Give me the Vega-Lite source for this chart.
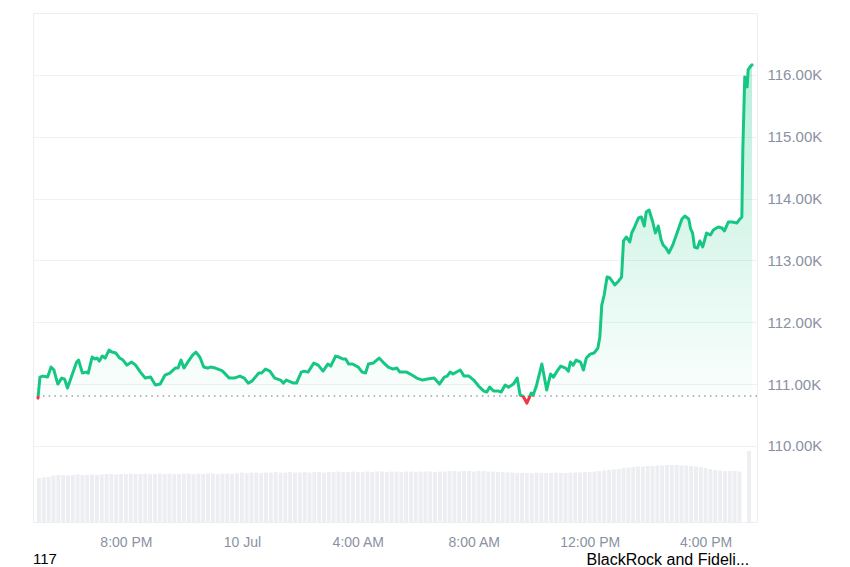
{
  "$schema": "https://vega.github.io/schema/vega-lite/v6.json",
  "width": 724,
  "height": 509,
  "autosize": {"type": "none"},
  "padding": {"left": 33, "top": 13, "right": 93, "bottom": 45},
  "background": "white",
  "config": {
    "font": "Liberation Sans",
    "view": {"stroke": "#eceef1", "strokeWidth": 1}
  },
  "title": {"text": "117", "orient": "bottom", "anchor": "start", "frame": "group", "fontSize": 15, "fontWeight": "normal", "color": "#000000", "offset": -15},
  "datasets": {
    "price": [
      {"t": "2025-07-09T16:58", "p": 110773},
      {"t": "2025-07-09T17:02", "p": 111113},
      {"t": "2025-07-09T17:08", "p": 111129},
      {"t": "2025-07-09T17:18", "p": 111113},
      {"t": "2025-07-09T17:25", "p": 111275},
      {"t": "2025-07-09T17:31", "p": 111227},
      {"t": "2025-07-09T17:39", "p": 111000},
      {"t": "2025-07-09T17:47", "p": 111097},
      {"t": "2025-07-09T17:53", "p": 111081},
      {"t": "2025-07-09T17:59", "p": 110935},
      {"t": "2025-07-09T18:07", "p": 111113},
      {"t": "2025-07-09T18:18", "p": 111356},
      {"t": "2025-07-09T18:22", "p": 111388},
      {"t": "2025-07-09T18:30", "p": 111178},
      {"t": "2025-07-09T18:38", "p": 111194},
      {"t": "2025-07-09T18:42", "p": 111178},
      {"t": "2025-07-09T18:50", "p": 111437},
      {"t": "2025-07-09T18:56", "p": 111405},
      {"t": "2025-07-09T19:00", "p": 111421},
      {"t": "2025-07-09T19:05", "p": 111372},
      {"t": "2025-07-09T19:11", "p": 111453},
      {"t": "2025-07-09T19:17", "p": 111421},
      {"t": "2025-07-09T19:25", "p": 111550},
      {"t": "2025-07-09T19:31", "p": 111518},
      {"t": "2025-07-09T19:39", "p": 111502},
      {"t": "2025-07-09T19:47", "p": 111421},
      {"t": "2025-07-09T19:54", "p": 111388},
      {"t": "2025-07-09T20:02", "p": 111307},
      {"t": "2025-07-09T20:12", "p": 111356},
      {"t": "2025-07-09T20:20", "p": 111307},
      {"t": "2025-07-09T20:30", "p": 111194},
      {"t": "2025-07-09T20:40", "p": 111097},
      {"t": "2025-07-09T20:51", "p": 111113},
      {"t": "2025-07-09T21:01", "p": 110984},
      {"t": "2025-07-09T21:11", "p": 111000},
      {"t": "2025-07-09T21:21", "p": 111146},
      {"t": "2025-07-09T21:31", "p": 111178},
      {"t": "2025-07-09T21:42", "p": 111259},
      {"t": "2025-07-09T21:48", "p": 111259},
      {"t": "2025-07-09T21:54", "p": 111388},
      {"t": "2025-07-09T22:00", "p": 111259},
      {"t": "2025-07-09T22:08", "p": 111356},
      {"t": "2025-07-09T22:18", "p": 111469},
      {"t": "2025-07-09T22:25", "p": 111518},
      {"t": "2025-07-09T22:33", "p": 111437},
      {"t": "2025-07-09T22:41", "p": 111275},
      {"t": "2025-07-09T22:49", "p": 111259},
      {"t": "2025-07-09T22:55", "p": 111275},
      {"t": "2025-07-09T23:05", "p": 111259},
      {"t": "2025-07-09T23:16", "p": 111227},
      {"t": "2025-07-09T23:20", "p": 111210},
      {"t": "2025-07-09T23:34", "p": 111097},
      {"t": "2025-07-09T23:44", "p": 111097},
      {"t": "2025-07-09T23:56", "p": 111129},
      {"t": "2025-07-10T00:05", "p": 111097},
      {"t": "2025-07-10T00:13", "p": 111016},
      {"t": "2025-07-10T00:21", "p": 111049},
      {"t": "2025-07-10T00:35", "p": 111178},
      {"t": "2025-07-10T00:41", "p": 111178},
      {"t": "2025-07-10T00:49", "p": 111243},
      {"t": "2025-07-10T00:58", "p": 111210},
      {"t": "2025-07-10T01:08", "p": 111097},
      {"t": "2025-07-10T01:20", "p": 111065},
      {"t": "2025-07-10T01:26", "p": 111016},
      {"t": "2025-07-10T01:32", "p": 111065},
      {"t": "2025-07-10T01:47", "p": 111016},
      {"t": "2025-07-10T01:53", "p": 111016},
      {"t": "2025-07-10T02:03", "p": 111194},
      {"t": "2025-07-10T02:09", "p": 111210},
      {"t": "2025-07-10T02:17", "p": 111194},
      {"t": "2025-07-10T02:29", "p": 111340},
      {"t": "2025-07-10T02:38", "p": 111307},
      {"t": "2025-07-10T02:48", "p": 111210},
      {"t": "2025-07-10T02:58", "p": 111324},
      {"t": "2025-07-10T03:04", "p": 111291},
      {"t": "2025-07-10T03:14", "p": 111453},
      {"t": "2025-07-10T03:21", "p": 111437},
      {"t": "2025-07-10T03:29", "p": 111405},
      {"t": "2025-07-10T03:35", "p": 111405},
      {"t": "2025-07-10T03:41", "p": 111324},
      {"t": "2025-07-10T03:49", "p": 111324},
      {"t": "2025-07-10T04:01", "p": 111275},
      {"t": "2025-07-10T04:09", "p": 111194},
      {"t": "2025-07-10T04:16", "p": 111178},
      {"t": "2025-07-10T04:22", "p": 111324},
      {"t": "2025-07-10T04:32", "p": 111340},
      {"t": "2025-07-10T04:44", "p": 111421},
      {"t": "2025-07-10T04:52", "p": 111356},
      {"t": "2025-07-10T05:03", "p": 111275},
      {"t": "2025-07-10T05:13", "p": 111243},
      {"t": "2025-07-10T05:21", "p": 111259},
      {"t": "2025-07-10T05:27", "p": 111194},
      {"t": "2025-07-10T05:41", "p": 111194},
      {"t": "2025-07-10T05:52", "p": 111146},
      {"t": "2025-07-10T06:02", "p": 111097},
      {"t": "2025-07-10T06:14", "p": 111065},
      {"t": "2025-07-10T06:24", "p": 111081},
      {"t": "2025-07-10T06:38", "p": 111097},
      {"t": "2025-07-10T06:49", "p": 111000},
      {"t": "2025-07-10T06:59", "p": 111113},
      {"t": "2025-07-10T07:05", "p": 111129},
      {"t": "2025-07-10T07:11", "p": 111194},
      {"t": "2025-07-10T07:17", "p": 111162},
      {"t": "2025-07-10T07:32", "p": 111227},
      {"t": "2025-07-10T07:40", "p": 111129},
      {"t": "2025-07-10T07:50", "p": 111129},
      {"t": "2025-07-10T08:00", "p": 111065},
      {"t": "2025-07-10T08:10", "p": 110968},
      {"t": "2025-07-10T08:21", "p": 110887},
      {"t": "2025-07-10T08:27", "p": 110871},
      {"t": "2025-07-10T08:33", "p": 110951},
      {"t": "2025-07-10T08:41", "p": 110887},
      {"t": "2025-07-10T08:51", "p": 110887},
      {"t": "2025-07-10T08:57", "p": 110871},
      {"t": "2025-07-10T09:05", "p": 110984},
      {"t": "2025-07-10T09:12", "p": 110951},
      {"t": "2025-07-10T09:22", "p": 111000},
      {"t": "2025-07-10T09:30", "p": 111097},
      {"t": "2025-07-10T09:36", "p": 110822},
      {"t": "2025-07-10T09:42", "p": 110806},
      {"t": "2025-07-10T09:50", "p": 110693},
      {"t": "2025-07-10T09:59", "p": 110854},
      {"t": "2025-07-10T10:03", "p": 110822},
      {"t": "2025-07-10T10:09", "p": 110951},
      {"t": "2025-07-10T10:21", "p": 111324},
      {"t": "2025-07-10T10:31", "p": 110903},
      {"t": "2025-07-10T10:39", "p": 111162},
      {"t": "2025-07-10T10:45", "p": 111113},
      {"t": "2025-07-10T10:54", "p": 111227},
      {"t": "2025-07-10T11:00", "p": 111291},
      {"t": "2025-07-10T11:10", "p": 111259},
      {"t": "2025-07-10T11:16", "p": 111210},
      {"t": "2025-07-10T11:20", "p": 111356},
      {"t": "2025-07-10T11:26", "p": 111307},
      {"t": "2025-07-10T11:32", "p": 111388},
      {"t": "2025-07-10T11:41", "p": 111356},
      {"t": "2025-07-10T11:47", "p": 111227},
      {"t": "2025-07-10T11:53", "p": 111421},
      {"t": "2025-07-10T12:01", "p": 111485},
      {"t": "2025-07-10T12:09", "p": 111502},
      {"t": "2025-07-10T12:17", "p": 111582},
      {"t": "2025-07-10T12:21", "p": 111760},
      {"t": "2025-07-10T12:25", "p": 112278},
      {"t": "2025-07-10T12:30", "p": 112440},
      {"t": "2025-07-10T12:36", "p": 112731},
      {"t": "2025-07-10T12:42", "p": 112715},
      {"t": "2025-07-10T12:52", "p": 112602},
      {"t": "2025-07-10T13:00", "p": 112667},
      {"t": "2025-07-10T13:06", "p": 112731},
      {"t": "2025-07-10T13:10", "p": 113314},
      {"t": "2025-07-10T13:16", "p": 113378},
      {"t": "2025-07-10T13:23", "p": 113298},
      {"t": "2025-07-10T13:27", "p": 113443},
      {"t": "2025-07-10T13:33", "p": 113540},
      {"t": "2025-07-10T13:41", "p": 113686},
      {"t": "2025-07-10T13:47", "p": 113702},
      {"t": "2025-07-10T13:53", "p": 113556},
      {"t": "2025-07-10T13:57", "p": 113783},
      {"t": "2025-07-10T14:03", "p": 113815},
      {"t": "2025-07-10T14:10", "p": 113637},
      {"t": "2025-07-10T14:16", "p": 113443},
      {"t": "2025-07-10T14:22", "p": 113556},
      {"t": "2025-07-10T14:28", "p": 113330},
      {"t": "2025-07-10T14:32", "p": 113249},
      {"t": "2025-07-10T14:38", "p": 113200},
      {"t": "2025-07-10T14:44", "p": 113120},
      {"t": "2025-07-10T14:52", "p": 113249},
      {"t": "2025-07-10T15:03", "p": 113492},
      {"t": "2025-07-10T15:11", "p": 113670},
      {"t": "2025-07-10T15:17", "p": 113718},
      {"t": "2025-07-10T15:25", "p": 113670},
      {"t": "2025-07-10T15:29", "p": 113508},
      {"t": "2025-07-10T15:33", "p": 113443},
      {"t": "2025-07-10T15:37", "p": 113217},
      {"t": "2025-07-10T15:43", "p": 113200},
      {"t": "2025-07-10T15:48", "p": 113314},
      {"t": "2025-07-10T15:54", "p": 113217},
      {"t": "2025-07-10T16:02", "p": 113443},
      {"t": "2025-07-10T16:10", "p": 113411},
      {"t": "2025-07-10T16:16", "p": 113492},
      {"t": "2025-07-10T16:26", "p": 113540},
      {"t": "2025-07-10T16:34", "p": 113524},
      {"t": "2025-07-10T16:39", "p": 113476},
      {"t": "2025-07-10T16:47", "p": 113621},
      {"t": "2025-07-10T16:55", "p": 113621},
      {"t": "2025-07-10T17:05", "p": 113605},
      {"t": "2025-07-10T17:11", "p": 113670},
      {"t": "2025-07-10T17:15", "p": 113702},
      {"t": "2025-07-10T17:17", "p": 114786},
      {"t": "2025-07-10T17:21", "p": 115967},
      {"t": "2025-07-10T17:26", "p": 115805},
      {"t": "2025-07-10T17:28", "p": 116080},
      {"t": "2025-07-10T17:32", "p": 116129},
      {"t": "2025-07-10T17:36", "p": 116161}
    ],
    "vol": [
      {"t": "2025-07-09T17:00", "v": 44},
      {"t": "2025-07-09T17:10", "v": 44.5},
      {"t": "2025-07-09T17:20", "v": 45},
      {"t": "2025-07-09T17:30", "v": 46.5},
      {"t": "2025-07-09T17:40", "v": 47},
      {"t": "2025-07-09T17:50", "v": 47},
      {"t": "2025-07-09T18:00", "v": 46.5},
      {"t": "2025-07-09T18:10", "v": 47},
      {"t": "2025-07-09T18:20", "v": 47.5},
      {"t": "2025-07-09T18:30", "v": 47},
      {"t": "2025-07-09T18:40", "v": 47},
      {"t": "2025-07-09T18:50", "v": 47.5},
      {"t": "2025-07-09T19:00", "v": 47},
      {"t": "2025-07-09T19:10", "v": 47.5},
      {"t": "2025-07-09T19:20", "v": 48},
      {"t": "2025-07-09T19:30", "v": 48},
      {"t": "2025-07-09T19:40", "v": 47.5},
      {"t": "2025-07-09T19:50", "v": 48},
      {"t": "2025-07-09T20:00", "v": 48},
      {"t": "2025-07-09T20:10", "v": 48.5},
      {"t": "2025-07-09T20:20", "v": 48},
      {"t": "2025-07-09T20:30", "v": 48},
      {"t": "2025-07-09T20:40", "v": 48.5},
      {"t": "2025-07-09T20:50", "v": 48},
      {"t": "2025-07-09T21:00", "v": 48},
      {"t": "2025-07-09T21:10", "v": 48.5},
      {"t": "2025-07-09T21:20", "v": 48},
      {"t": "2025-07-09T21:30", "v": 48.5},
      {"t": "2025-07-09T21:40", "v": 48},
      {"t": "2025-07-09T21:50", "v": 48},
      {"t": "2025-07-09T22:00", "v": 48.5},
      {"t": "2025-07-09T22:10", "v": 48.5},
      {"t": "2025-07-09T22:20", "v": 48},
      {"t": "2025-07-09T22:30", "v": 48.5},
      {"t": "2025-07-09T22:40", "v": 48},
      {"t": "2025-07-09T22:50", "v": 48.5},
      {"t": "2025-07-09T23:00", "v": 48.5},
      {"t": "2025-07-09T23:10", "v": 48},
      {"t": "2025-07-09T23:20", "v": 48.5},
      {"t": "2025-07-09T23:30", "v": 48.5},
      {"t": "2025-07-09T23:40", "v": 48},
      {"t": "2025-07-09T23:50", "v": 49},
      {"t": "2025-07-10T00:00", "v": 49.5},
      {"t": "2025-07-10T00:10", "v": 49},
      {"t": "2025-07-10T00:20", "v": 49.5},
      {"t": "2025-07-10T00:30", "v": 49.5},
      {"t": "2025-07-10T00:40", "v": 49},
      {"t": "2025-07-10T00:50", "v": 49.5},
      {"t": "2025-07-10T01:00", "v": 49.5},
      {"t": "2025-07-10T01:10", "v": 50},
      {"t": "2025-07-10T01:20", "v": 49.5},
      {"t": "2025-07-10T01:30", "v": 49.5},
      {"t": "2025-07-10T01:40", "v": 50},
      {"t": "2025-07-10T01:50", "v": 49.5},
      {"t": "2025-07-10T02:00", "v": 49.5},
      {"t": "2025-07-10T02:10", "v": 50},
      {"t": "2025-07-10T02:20", "v": 49.5},
      {"t": "2025-07-10T02:30", "v": 50},
      {"t": "2025-07-10T02:40", "v": 50},
      {"t": "2025-07-10T02:50", "v": 49.5},
      {"t": "2025-07-10T03:00", "v": 50},
      {"t": "2025-07-10T03:10", "v": 50},
      {"t": "2025-07-10T03:20", "v": 50.5},
      {"t": "2025-07-10T03:30", "v": 50},
      {"t": "2025-07-10T03:40", "v": 50},
      {"t": "2025-07-10T03:50", "v": 50.5},
      {"t": "2025-07-10T04:00", "v": 50},
      {"t": "2025-07-10T04:10", "v": 50},
      {"t": "2025-07-10T04:20", "v": 50.5},
      {"t": "2025-07-10T04:30", "v": 50},
      {"t": "2025-07-10T04:40", "v": 50.5},
      {"t": "2025-07-10T04:50", "v": 50.5},
      {"t": "2025-07-10T05:00", "v": 50},
      {"t": "2025-07-10T05:10", "v": 50.5},
      {"t": "2025-07-10T05:20", "v": 50.5},
      {"t": "2025-07-10T05:30", "v": 50},
      {"t": "2025-07-10T05:40", "v": 50.5},
      {"t": "2025-07-10T05:50", "v": 50.5},
      {"t": "2025-07-10T06:00", "v": 50},
      {"t": "2025-07-10T06:10", "v": 50.5},
      {"t": "2025-07-10T06:20", "v": 50.5},
      {"t": "2025-07-10T06:30", "v": 50.5},
      {"t": "2025-07-10T06:40", "v": 50},
      {"t": "2025-07-10T06:50", "v": 50.5},
      {"t": "2025-07-10T07:00", "v": 50.5},
      {"t": "2025-07-10T07:10", "v": 51},
      {"t": "2025-07-10T07:20", "v": 51},
      {"t": "2025-07-10T07:30", "v": 50.5},
      {"t": "2025-07-10T07:40", "v": 51},
      {"t": "2025-07-10T07:50", "v": 51},
      {"t": "2025-07-10T08:00", "v": 50.5},
      {"t": "2025-07-10T08:10", "v": 51},
      {"t": "2025-07-10T08:20", "v": 51},
      {"t": "2025-07-10T08:30", "v": 50.5},
      {"t": "2025-07-10T08:40", "v": 50.5},
      {"t": "2025-07-10T08:50", "v": 50},
      {"t": "2025-07-10T09:00", "v": 50},
      {"t": "2025-07-10T09:10", "v": 49.5},
      {"t": "2025-07-10T09:20", "v": 49.5},
      {"t": "2025-07-10T09:30", "v": 49},
      {"t": "2025-07-10T09:40", "v": 49},
      {"t": "2025-07-10T09:50", "v": 49},
      {"t": "2025-07-10T10:00", "v": 49},
      {"t": "2025-07-10T10:10", "v": 49.5},
      {"t": "2025-07-10T10:20", "v": 49},
      {"t": "2025-07-10T10:30", "v": 49},
      {"t": "2025-07-10T10:40", "v": 49},
      {"t": "2025-07-10T10:50", "v": 49.5},
      {"t": "2025-07-10T11:00", "v": 49},
      {"t": "2025-07-10T11:10", "v": 49},
      {"t": "2025-07-10T11:20", "v": 49.5},
      {"t": "2025-07-10T11:30", "v": 49.5},
      {"t": "2025-07-10T11:40", "v": 49.5},
      {"t": "2025-07-10T11:50", "v": 50},
      {"t": "2025-07-10T12:00", "v": 50},
      {"t": "2025-07-10T12:10", "v": 50.5},
      {"t": "2025-07-10T12:20", "v": 51},
      {"t": "2025-07-10T12:30", "v": 51.5},
      {"t": "2025-07-10T12:40", "v": 52},
      {"t": "2025-07-10T12:50", "v": 52.5},
      {"t": "2025-07-10T13:00", "v": 53},
      {"t": "2025-07-10T13:10", "v": 54},
      {"t": "2025-07-10T13:20", "v": 54.5},
      {"t": "2025-07-10T13:30", "v": 55},
      {"t": "2025-07-10T13:40", "v": 55.5},
      {"t": "2025-07-10T13:50", "v": 55.5},
      {"t": "2025-07-10T14:00", "v": 56},
      {"t": "2025-07-10T14:10", "v": 56},
      {"t": "2025-07-10T14:20", "v": 56.5},
      {"t": "2025-07-10T14:30", "v": 56.5},
      {"t": "2025-07-10T14:40", "v": 57},
      {"t": "2025-07-10T14:50", "v": 57},
      {"t": "2025-07-10T15:00", "v": 57},
      {"t": "2025-07-10T15:10", "v": 56.5},
      {"t": "2025-07-10T15:20", "v": 56.5},
      {"t": "2025-07-10T15:30", "v": 56},
      {"t": "2025-07-10T15:40", "v": 55.5},
      {"t": "2025-07-10T15:50", "v": 55},
      {"t": "2025-07-10T16:00", "v": 54},
      {"t": "2025-07-10T16:10", "v": 53},
      {"t": "2025-07-10T16:20", "v": 52},
      {"t": "2025-07-10T16:30", "v": 51.5},
      {"t": "2025-07-10T16:40", "v": 51},
      {"t": "2025-07-10T16:50", "v": 51},
      {"t": "2025-07-10T17:00", "v": 51},
      {"t": "2025-07-10T17:10", "v": 50.5},
      {"t": "2025-07-10T17:30", "v": 71}
    ]
  },
  "layer": [
    {
      "data": {"name": "vol"},
      "mark": {"type": "bar", "color": "#eceef2", "width": 3.9, "clip": true},
      "encoding": {
        "x": {
          "field": "t", "type": "temporal", "title": "BlackRock and Fideli...",
          "scale": {"domain": [{"year": 2025, "month": 7, "date": 9, "hours": 16, "minutes": 58}, {"year": 2025, "month": 7, "date": 10, "hours": 17, "minutes": 36}]},
          "axis": {
            "values": [
              {"year": 2025, "month": 7, "date": 9, "hours": 20},
              {"year": 2025, "month": 7, "date": 10, "hours": 0},
              {"year": 2025, "month": 7, "date": 10, "hours": 4},
              {"year": 2025, "month": 7, "date": 10, "hours": 8},
              {"year": 2025, "month": 7, "date": 10, "hours": 12},
              {"year": 2025, "month": 7, "date": 10, "hours": 16}
            ],
            "labelExpr": "hours(datum.value) == 0 ? timeFormat(datum.value, '%-d %b') : timeFormat(datum.value, '%-I:%M %p')",
            "domain": false, "ticks": false, "grid": false,
            "labelColor": "#8a91a3", "labelFontSize": 14, "labelPadding": 13,
            "titleColor": "#000000", "titleFontSize": 16, "titleFontWeight": "normal",
            "titleX": 553, "titleY": 42, "titleAlign": "left", "titleBaseline": "alphabetic", "titleAnchor": "start"
          }
        },
        "y": {"field": "v", "type": "quantitative", "title": null, "scale": {"domain": [0, 509]}, "axis": null}
      }
    },
    {
      "data": {"name": "price"},
      "layer": [
        {
          "mark": {
            "type": "area",
            "color": {"gradient": "linear", "x1": 0, "y1": 0, "x2": 0, "y2": 1,
              "stops": [{"offset": 0, "color": "rgba(22,199,132,0.3)"}, {"offset": 1, "color": "rgba(22,199,132,0.01)"}]}
          },
          "encoding": {
            "x": {"field": "t", "type": "temporal", "title": "BlackRock and Fideli...",
              "scale": {"domain": [{"year": 2025, "month": 7, "date": 9, "hours": 16, "minutes": 58}, {"year": 2025, "month": 7, "date": 10, "hours": 17, "minutes": 36}]}},
            "y": {"field": "p", "type": "quantitative", "title": null, "scale": {"domain": [108770, 117000], "zero": false, "nice": false}},
            "y2": {"datum": 110806}
          }
        },
        {
          "data": {"values": [{"base": 110806}]},
          "mark": {"type": "rule", "color": "#9aa0ab", "strokeWidth": 1.5, "strokeDash": [1.5, 4.2]},
          "encoding": {
            "y": {"field": "base", "type": "quantitative", "title": null, "scale": {"domain": [108770, 117000], "zero": false, "nice": false}}
          }
        },
        {
          "mark": {
            "type": "line", "strokeWidth": 3, "strokeJoin": "round", "strokeCap": "round",
            "color": {"gradient": "linear", "x1": 0, "y1": 0, "x2": 0, "y2": 1,
              "stops": [{"offset": 0, "color": "#16c784"}, {"offset": 0.9793, "color": "#16c784"}, {"offset": 0.9793, "color": "#ea3943"}, {"offset": 1, "color": "#ea3943"}]}
          },
          "encoding": {
            "x": {"field": "t", "type": "temporal", "title": "BlackRock and Fideli...",
              "scale": {"domain": [{"year": 2025, "month": 7, "date": 9, "hours": 16, "minutes": 58}, {"year": 2025, "month": 7, "date": 10, "hours": 17, "minutes": 36}]}},
            "y": {
              "field": "p", "type": "quantitative", "title": null,
              "scale": {"domain": [108770, 117000], "zero": false, "nice": false},
              "axis": {
                "orient": "right",
                "values": [110000, 111000, 112000, 113000, 114000, 115000, 116000],
                "labelExpr": "format(datum.value / 1000, '.2f') + 'K'",
                "domain": false, "ticks": false, "grid": true, "gridColor": "#eff1f4", "gridWidth": 1,
                "labelColor": "#8a91a3", "labelFontSize": 15, "labelPadding": 10
              }
            }
          }
        }
      ]
    }
  ],
  "resolve": {"scale": {"y": "independent"}}
}
